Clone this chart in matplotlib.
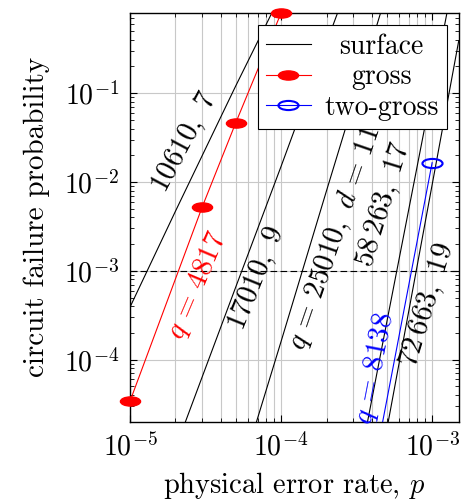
import matplotlib
matplotlib.use("Agg")
import matplotlib.pyplot as plt
from matplotlib.path import Path
from matplotlib.transforms import Affine2D
from matplotlib.lines import Line2D

plt.rcParams["font.family"] = "serif"
plt.rcParams["font.serif"] = ["cmr10"]
plt.rcParams["mathtext.fontset"] = "cm"
plt.rcParams["axes.formatter.use_mathtext"] = True
plt.rcParams["axes.unicode_minus"] = False

# surface code curves (some points lie outside the axes)
surf7_p = [1e-5, 2e-5, 5e-5, 1e-4]
surf7_y = [3.9e-4, 4.7e-3, 1.2e-1, 1.3]
surf9_p = [2e-5, 5e-5, 1e-4, 2e-4, 3e-4]
surf9_y = [1.0e-5, 6.5e-4, 1.5e-2, 3.7e-1, 2.4]
surf11_p = [5e-5, 1e-4, 2e-4, 3e-4, 5e-4]
surf11_y = [3.4e-6, 1.6e-4, 8.0e-3, 7.7e-2, 1.35]
surf17_p = [3e-4, 5e-4, 1e-3, 1.5e-3]
surf17_y = [2.9e-6, 2.6e-4, 1.1e-1, 3.9]
surf19_p = [5e-4, 7e-4, 1e-3, 1.5e-3]
surf19_y = [1.6e-5, 3.5e-4, 9.3e-3, 3.9e-1]

gross_p = [1e-5, 3e-5, 5e-5, 1e-4]
gross_y = [3.4e-5, 5.2e-3, 4.6e-2, 0.8]
twogross_p = [4e-4, 1e-3]
twogross_y = [4.7e-6, 1.65e-2]

target_rate = 1e-3

legend_labels = ["surface", "gross", "two-gross"]

# curve annotations: text, anchor (p, y), rotation, colour
annotations = [
    (r"$10610,\ 7$", 2.31e-5, 2.82e-2, 62, "black"),
    (r"$q\,=\,4817$", 2.81e-5, 6.85e-4, 67, "red"),
    (r"$17010,\ 9$", 6.9e-5, 8.3e-4, 68, "black"),
    (r"$q\,=\,25010,\ d\,=\,11$", 2.28e-4, 2.33e-3, 71, "black"),
    (r"$58\,263,\ 17$", 4.8e-4, 5.5e-3, 73, "black"),
    (r"$q\,=\,8138$", 4.19e-4, 7.9e-5, 79, "blue"),
    (r"$72\,663,\ 19$", 9.35e-4, 4.1e-4, 73, "black"),
]

ellipse = Path.unit_circle().transformed(Affine2D().scale(2.2, 1.0))

fig = plt.figure(figsize=(4.68, 5.01), dpi=100)
ax = fig.add_axes([0.2778, 0.1583, 0.7024, 0.8157])

surf_lw = 0.8
for p, y in [(surf7_p, surf7_y), (surf9_p, surf9_y), (surf11_p, surf11_y),
             (surf17_p, surf17_y), (surf19_p, surf19_y)]:
    ax.plot(p, y, color="black", lw=surf_lw, zorder=3)

ax.plot(gross_p, gross_y, color="red", lw=0.8, zorder=4)
ax.plot(gross_p, gross_y, ls="none", marker=ellipse, ms=14.5,
        color="red", clip_on=False, zorder=5)
ax.plot(twogross_p, twogross_y, color="blue", lw=0.8, marker=ellipse,
        ms=14.5, mfc="none", mec="blue", mew=1.5, zorder=4)

ax.axhline(target_rate, color="black", lw=0.8, ls=(0, (6, 3)), zorder=3)

for txt, px, py, rot, col in annotations:
    ax.text(px, py, txt, rotation=rot, color=col, fontsize=21,
            ha="center", va="center", rotation_mode="anchor", zorder=6)

ax.set_xscale("log")
ax.set_yscale("log")
ax.set_xlim(1e-5, 1.5e-3)
ax.set_ylim(2e-5, 0.8)
ax.set_xticks([1e-5, 1e-4, 1e-3])
ax.set_yticks([1e-4, 1e-3, 1e-2, 1e-1])

ax.grid(which="major", axis="both", color="#c8c8c8", lw=0.8, zorder=0)
ax.grid(which="minor", axis="x", color="#c8c8c8", lw=0.8, zorder=0)
ax.set_axisbelow(True)

ax.tick_params(which="both", direction="in", top=True, right=True,
               labelsize=20, color="black")
ax.tick_params(which="major", length=5, width=0.8, pad=8)
ax.tick_params(which="minor", length=3, width=0.6)
for s in ax.spines.values():
    s.set_linewidth(1.0)

ax.set_xlabel(r"physical error rate, $p$", fontsize=20.5, labelpad=6)
ax.set_ylabel("circuit failure probability", fontsize=21, labelpad=10)

handles = [
    Line2D([], [], color="black", lw=0.8),
    Line2D([], [], color="red", lw=0.8, marker=ellipse, ms=14.5),
    Line2D([], [], color="blue", lw=0.8, marker=ellipse, ms=14.5,
           mfc="none", mec="blue", mew=1.5),
]
leg = ax.legend(handles, legend_labels, loc="upper right",
                bbox_to_anchor=(0.965, 0.97), fontsize=20, frameon=True,
                fancybox=False, edgecolor="black", framealpha=1.0,
                handlelength=1.6, handletextpad=0.5, labelspacing=0.15,
                borderpad=0.3, borderaxespad=0.0)
leg.get_frame().set_linewidth(0.8)
leg.set_zorder(10)

# centre the legend entries in their column, as pgfplots does
fig.canvas.draw()
renderer = fig.canvas.get_renderer()
widths = [t.get_window_extent(renderer).width for t in leg.get_texts()]
for t, w in zip(leg.get_texts(), widths):
    shift = (max(widths) - w) / 2
    t.set_transform(t.get_transform() + Affine2D().translate(shift, 0))

fig.savefig("out.png", dpi=100)
